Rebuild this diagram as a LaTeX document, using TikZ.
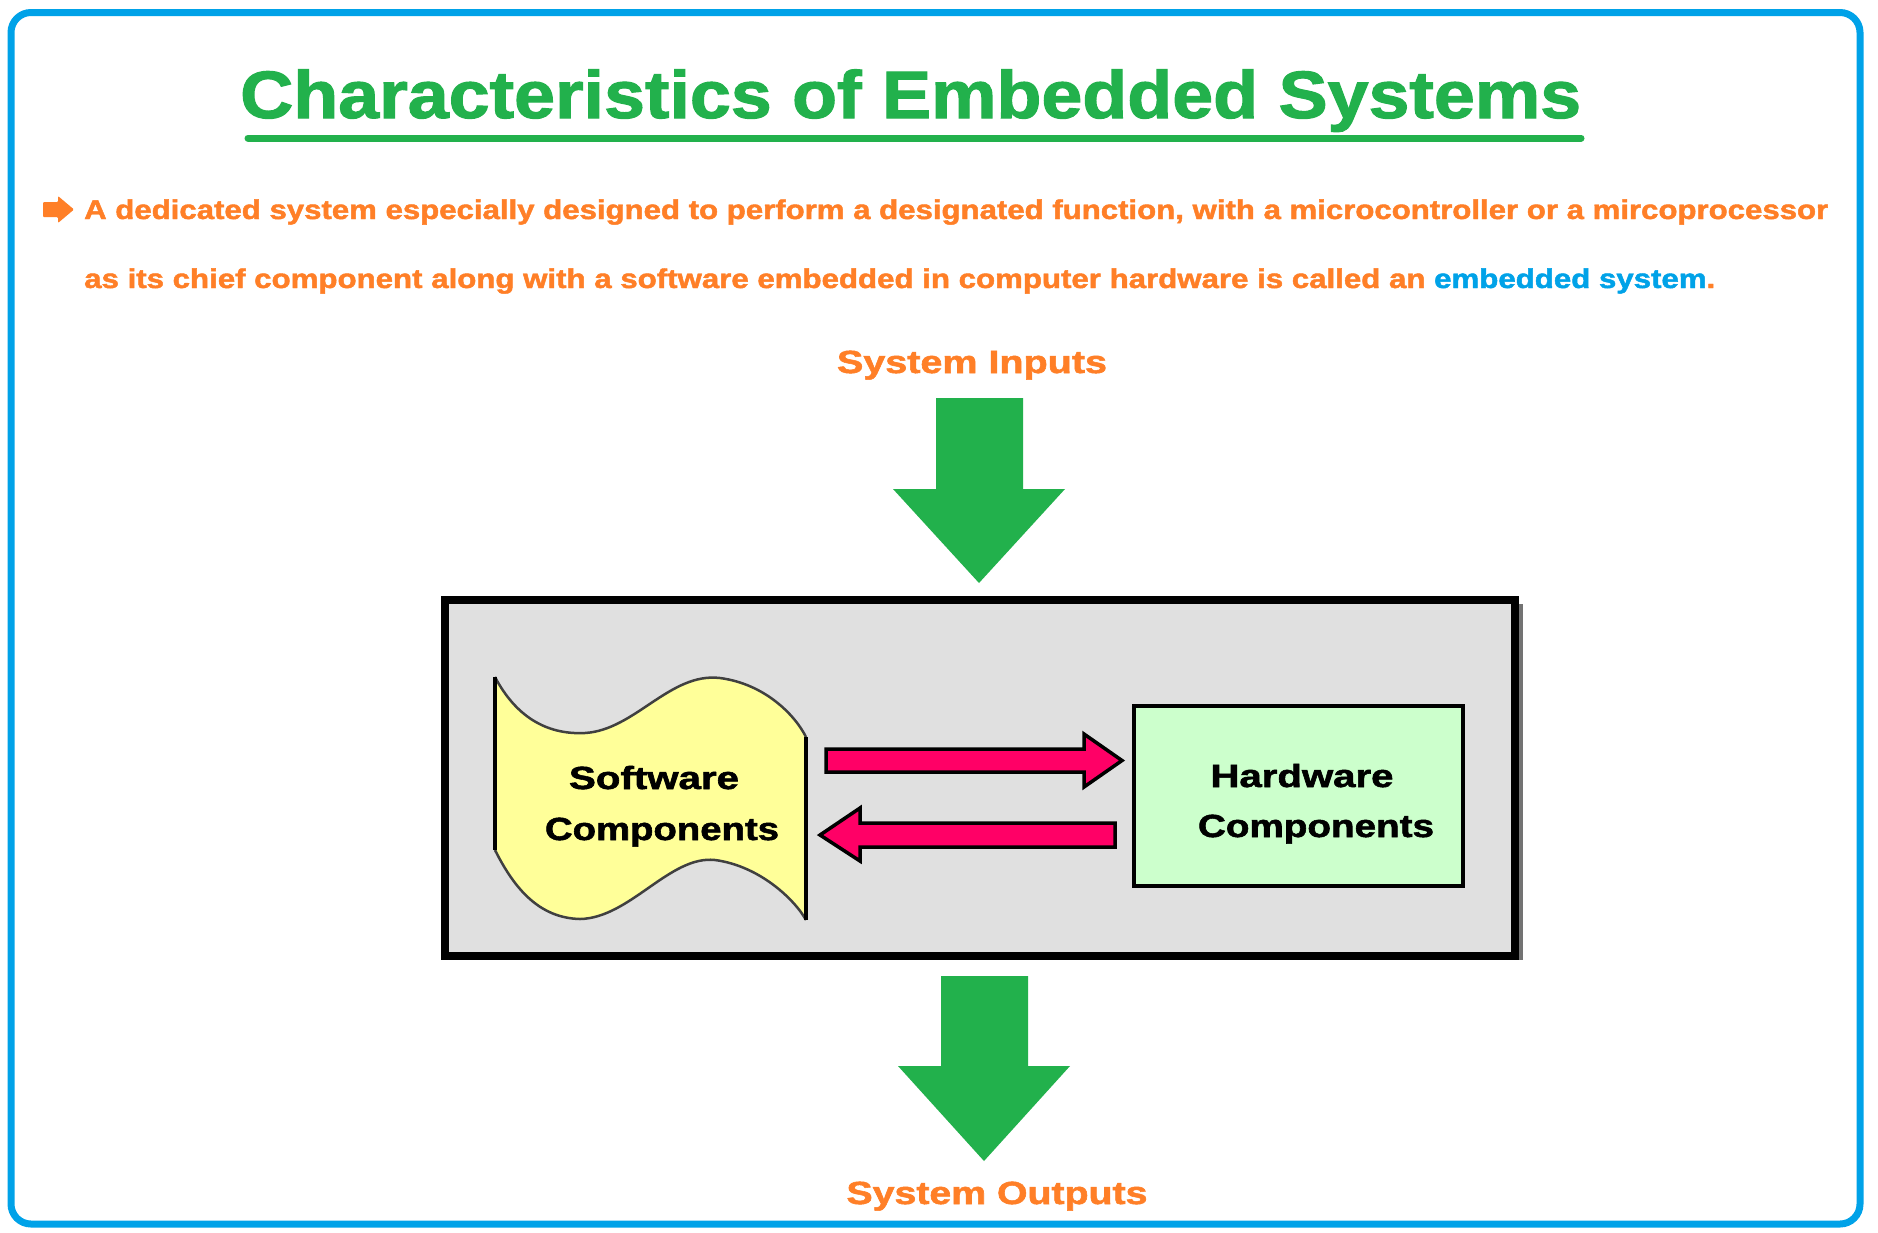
\documentclass[tikz,border=0pt]{standalone}
\usepackage{fontspec}
\setmainfont{Liberation Sans}[BoldFeatures={FakeBold=1.6}]
\usepackage{graphicx}
\definecolor{tgreen}{HTML}{22B14C}
\definecolor{torange}{HTML}{FF7F27}
\definecolor{tblue}{HTML}{00A2E8}
\definecolor{tpink}{HTML}{FF0066}
\definecolor{tyellow}{HTML}{FFFF99}
\definecolor{tlgreen}{HTML}{CCFFCC}
\definecolor{tgray}{HTML}{E0E0E0}
\newcommand\fitw[2]{\resizebox{#1}{\height}{#2}}
\tikzset{
  lbl/.style={inner sep=0pt, anchor=base, font=\fontsize{32}{38}\selectfont\bfseries},
  para/.style={inner sep=0pt, anchor=base west, font=\fontsize{27}{32}\selectfont\bfseries, text=torange},
  bigarrow/.style={fill=tgreen, draw=none},
  pinkarrow/.style={fill=tpink, draw=black, line width=3.5pt, line join=miter},
}
\begin{document}
\begin{tikzpicture}[x=1pt,y=-1pt]
\useasboundingbox (0,0) rectangle (1878,1232);
\fill[white] (0,0) rectangle (1878,1232);
% outer frame
\draw[tblue, line width=7pt, rounded corners=20pt] (11,12.5) rectangle (1860,1224);
% title
\node[inner sep=0pt, anchor=base west, text=tgreen, font=\fontsize{67}{80}\selectfont\bfseries] (title) at (240,118) {\fitw{1341pt}{Characteristics of Embedded Systems}};
\draw[tgreen, line width=7pt, line cap=round] (248,138) -- (1581,138);
% bullet arrow
\fill[torange, rounded corners=1pt] (43,202) -- (58,202) -- (58,196) -- (74,209.5) -- (58,223) -- (58,217) -- (43,217) -- cycle;
% paragraph
\node[para] (line1) at (84,219) {\fitw{1744pt}{A dedicated system especially designed to perform a designated function, with a microcontroller or a mircoprocessor}};
\node[para] (line2) at (84,288) {\fitw{1631pt}{as its chief component along with a software embedded in computer hardware is called an \textcolor{tblue}{embedded system}.}};
% system inputs
\node[lbl, text=torange] (inp) at (972,373) {\fitw{270pt}{System Inputs}};
\fill[bigarrow] (936,398) -- (1023,398) -- (1023,489) -- (1065,489) -- (979,583) -- (893,489) -- (936,489) -- cycle;
% system box
\fill[black!55] (1519,604) rectangle (1523,960);
\draw[fill=tgray, line width=8pt] (445,600) rectangle (1515,956);
% software shape
\fill[tyellow] (495,677) .. controls (515,715) and (545,735) .. (585,733) .. controls (635,730) and (670,672) .. (720,678) .. controls (765,684) and (795,715) .. (806,737) -- (806,920) .. controls (795,900) and (760,866) .. (715,860) .. controls (670,855) and (630,918) .. (580,919) .. controls (540,918) and (515,890) .. (495,850) -- cycle;
\draw[black!75, line width=2.5pt] (495,677) .. controls (515,715) and (545,735) .. (585,733) .. controls (635,730) and (670,672) .. (720,678) .. controls (765,684) and (795,715) .. (806,737);
\draw[black!75, line width=2.5pt] (806,920) .. controls (795,900) and (760,866) .. (715,860) .. controls (670,855) and (630,918) .. (580,919) .. controls (540,918) and (515,890) .. (495,850);
\draw[black, line width=4pt] (495,677) -- (495,850);
\draw[black, line width=4pt] (806,737) -- (806,920);
\node[lbl] (sw1) at (654,789) {\fitw{170pt}{Software}};
\node[lbl] (sw2) at (662,840) {\fitw{234pt}{Components}};
% hardware box
\draw[fill=tlgreen, line width=4pt] (1134,706) rectangle (1463,886);
\node[lbl] (hw1) at (1302,787) {\fitw{183pt}{Hardware}};
\node[lbl] (hw2) at (1316,837) {\fitw{236pt}{Components}};
% pink arrows
\draw[pinkarrow] (826,749) -- (1084,749) -- (1084,734) -- (1122,760.5) -- (1084,787) -- (1084,772) -- (826,772) -- cycle;
\draw[pinkarrow] (820,835) -- (860,808) -- (860,823) -- (1115,823) -- (1115,847) -- (860,847) -- (860,861) -- cycle;
% system outputs
\fill[bigarrow] (941,976) -- (1028,976) -- (1028,1066) -- (1070,1066) -- (984,1161) -- (898,1066) -- (941,1066) -- cycle;
\node[lbl, text=torange] (outp) at (997,1204) {\fitw{301pt}{System Outputs}};
\end{tikzpicture}
\end{document}
